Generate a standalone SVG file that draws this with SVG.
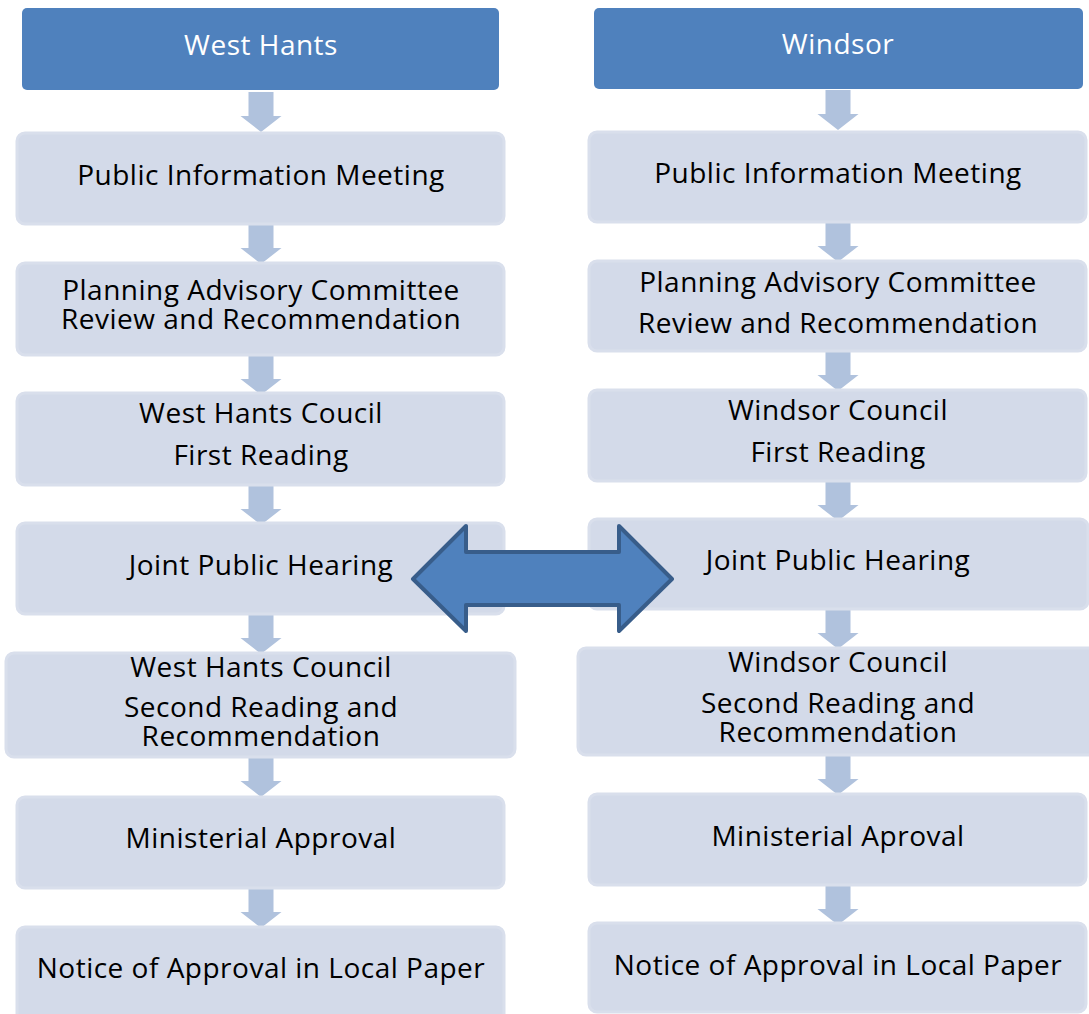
<svg xmlns="http://www.w3.org/2000/svg" width="1089" height="1014" viewBox="0 0 1089 1014">
  <defs>
    <style>
      .hdr { fill: #4F81BD; }
      .hdr-t { fill: #FFFFFF; font-family: "Open Sans", Lato, sans-serif; font-size: 28px; letter-spacing: 0.5px; text-anchor: middle; }
      .box { fill: #D3DAE9; stroke: #D9DFEC; stroke-width: 3; }
      .t { fill: #000000; font-family: "Open Sans", Lato, sans-serif; font-size: 28px; letter-spacing: 0.5px; text-anchor: middle; }
      .flow { fill: #B0C2DD; }
      .big { fill: #4F81BD; stroke: #385D8A; stroke-width: 4; stroke-linejoin: round; }
    </style>
    <!-- down arrow, origin at top centre, 40 tall -->
    <path id="dn" d="M-12.5 0 H12.5 V24 H20.5 L0 40 L-20.5 24 H-12.5 Z"/>
  </defs>

  <!-- flow connectors -->
  <g id="connectors" class="flow">
    <use href="#dn" x="261" y="92"/>
    <use href="#dn" x="261" y="224"/>
    <use href="#dn" x="261" y="355"/>
    <use href="#dn" x="261" y="485"/>
    <use href="#dn" x="261" y="614"/>
    <use href="#dn" x="261" y="757"/>
    <use href="#dn" x="261" y="888"/>
    <use href="#dn" x="838" y="90"/>
    <use href="#dn" x="838" y="222"/>
    <use href="#dn" x="838" y="351"/>
    <use href="#dn" x="838" y="481"/>
    <use href="#dn" x="838" y="609"/>
    <use href="#dn" x="838" y="755"/>
    <use href="#dn" x="838" y="885"/>
  </g>

  <!-- West Hants column -->
  <g id="wh-header">
    <rect class="hdr" x="22" y="8" width="477" height="82" rx="5"/>
    <text class="hdr-t" x="261" y="55">West Hants</text>
  </g>
  <g id="wh-pim">
    <rect class="box" x="17" y="133" width="487" height="91" rx="8"/>
    <text class="t" x="261" y="185">Public Information Meeting</text>
  </g>
  <g id="wh-pac">
    <rect class="box" x="17" y="263" width="487" height="92" rx="8"/>
    <text class="t" x="261" y="300">Planning Advisory Committee</text>
    <text class="t" x="261" y="329">Review and Recommendation</text>
  </g>
  <g id="wh-first">
    <rect class="box" x="17" y="393" width="487" height="92" rx="8"/>
    <text class="t" x="261" y="423">West Hants Coucil</text>
    <text class="t" x="261" y="465">First Reading</text>
  </g>
  <g id="wh-hearing">
    <rect class="box" x="17" y="523" width="487" height="91" rx="8"/>
    <text class="t" x="261" y="575">Joint Public Hearing</text>
  </g>
  <g id="wh-second">
    <rect class="box" x="6" y="653" width="509" height="104" rx="8"/>
    <text class="t" x="261" y="677">West Hants Council</text>
    <text class="t" x="261" y="717">Second Reading and</text>
    <text class="t" x="261" y="746">Recommendation</text>
  </g>
  <g id="wh-minister">
    <rect class="box" x="17" y="797" width="487" height="91" rx="8"/>
    <text class="t" x="261" y="848">Ministerial Approval</text>
  </g>
  <g id="wh-notice">
    <rect class="box" x="17" y="927" width="487" height="95" rx="8"/>
    <text class="t" x="261" y="978">Notice of Approval in Local Paper</text>
  </g>

  <!-- Windsor column -->
  <g id="w-header">
    <rect class="hdr" x="594" y="8" width="489" height="81" rx="5"/>
    <text class="hdr-t" x="838" y="54">Windsor</text>
  </g>
  <g id="w-pim">
    <rect class="box" x="589" y="132" width="497" height="90" rx="8"/>
    <text class="t" x="838" y="183">Public Information Meeting</text>
  </g>
  <g id="w-pac">
    <rect class="box" x="589" y="261" width="497" height="90" rx="8"/>
    <text class="t" x="838" y="292">Planning Advisory Committee</text>
    <text class="t" x="838" y="333">Review and Recommendation</text>
  </g>
  <g id="w-first">
    <rect class="box" x="589" y="390" width="497" height="91" rx="8"/>
    <text class="t" x="838" y="420">Windsor Council</text>
    <text class="t" x="838" y="462">First Reading</text>
  </g>
  <g id="w-hearing">
    <rect class="box" x="589" y="519" width="499" height="90" rx="8"/>
    <text class="t" x="838" y="570">Joint Public Hearing</text>
  </g>
  <g id="w-second">
    <rect class="box" x="578" y="648" width="520" height="107" rx="8"/>
    <text class="t" x="838" y="672">Windsor Council</text>
    <text class="t" x="838" y="713">Second Reading and</text>
    <text class="t" x="838" y="742">Recommendation</text>
  </g>
  <g id="w-minister">
    <rect class="box" x="589" y="794" width="497" height="91" rx="8"/>
    <text class="t" x="838" y="846">Ministerial Aproval</text>
  </g>
  <g id="w-notice">
    <rect class="box" x="589" y="923" width="497" height="89" rx="8"/>
    <text class="t" x="838" y="975">Notice of Approval in Local Paper</text>
  </g>

  <!-- link between the two public hearings -->
  <g id="hearing-link">
    <path class="big" d="M413 579 L466 526 V552 H619 V526 L672 579 L619 631 V605 H466 V631 Z"/>
  </g>
</svg>
